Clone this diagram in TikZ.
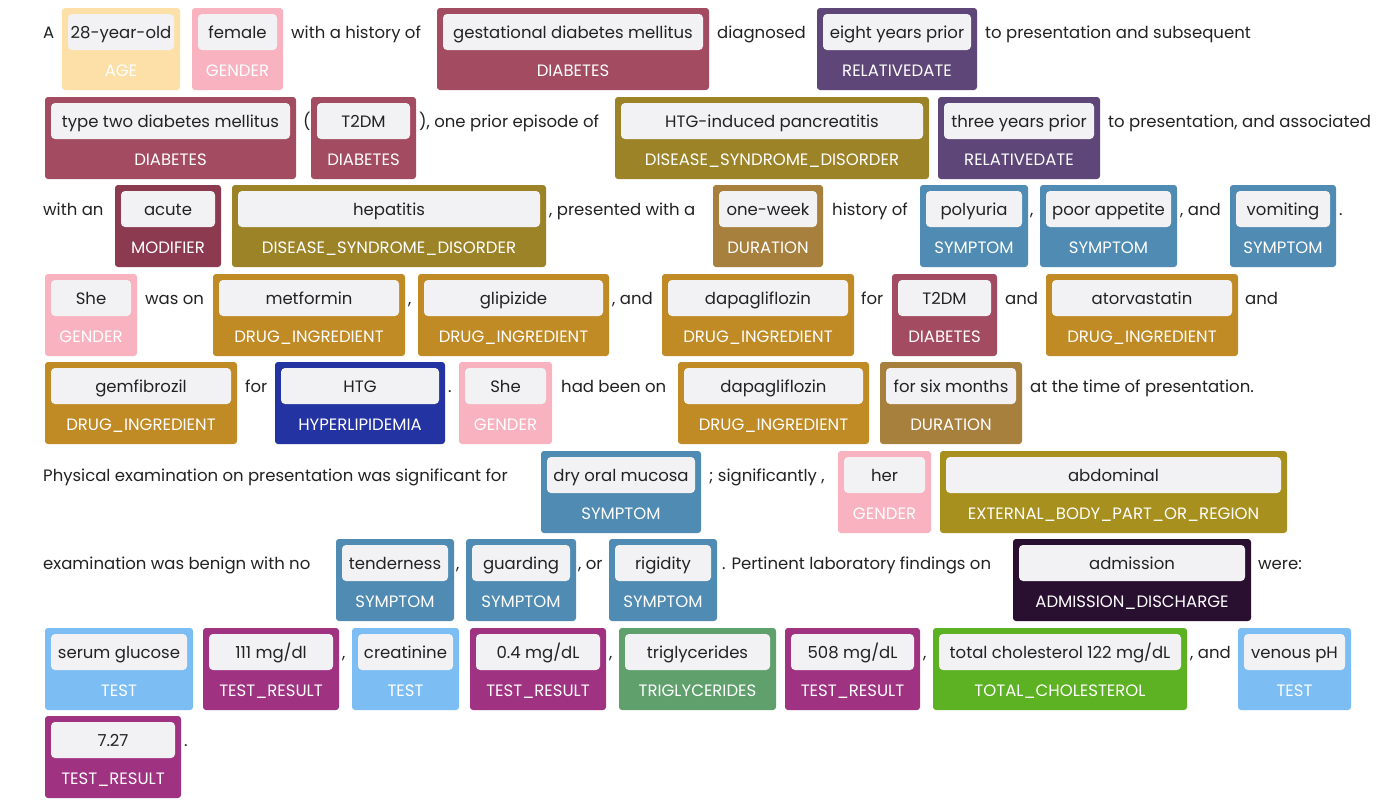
\documentclass[tikz,border=0pt]{standalone}
\usepackage{fontspec}
\setmainfont{Poppins}
\definecolor{cAge}{HTML}{FCE0A8}
\definecolor{cGen}{HTML}{F9B2C0}
\definecolor{cDia}{HTML}{A34B60}
\definecolor{cRel}{HTML}{5E4678}
\definecolor{cDis}{HTML}{9C8328}
\definecolor{cMod}{HTML}{8C3A50}
\definecolor{cDur}{HTML}{A8803E}
\definecolor{cSym}{HTML}{4F8BB2}
\definecolor{cDrug}{HTML}{C08A25}
\definecolor{cHyp}{HTML}{2433A2}
\definecolor{cExt}{HTML}{A8901E}
\definecolor{cAdm}{HTML}{2A1030}
\definecolor{cTest}{HTML}{7CBDF3}
\definecolor{cRes}{HTML}{A03282}
\definecolor{cTri}{HTML}{5FA06C}
\definecolor{cTot}{HTML}{5CB222}
\definecolor{cIn}{HTML}{F2F2F4}
\definecolor{cTx}{HTML}{222222}
\tikzset{
 outer/.style={rounded corners=3pt, inner sep=0pt},
 inner/.style={fill=cIn, rounded corners=4pt},
 word/.style={font=\fontsize{16.5}{20}\selectfont, text=cTx, anchor=base, inner sep=0pt},
 lab/.style={font=\fontsize{16.5}{20}\selectfont, text=white, anchor=base, inner sep=0pt},
 plain/.style={font=\fontsize{16.5}{20}\selectfont, text=cTx, anchor=base west, inner sep=0pt},
}
% name, x1, x2, top, color, word, label
\newcommand\ann[7]{%
 \fill[outer, fill=#5] (#2,#4) rectangle (#3,#4+82);
 \fill[inner] (#2+6,#4+6) rectangle (#3-6,#4+42);
 \node[word] (#1w) at ({(#2+#3)/2},#4+30) {#6};
 \node[lab] (#1l) at ({(#2+#3)/2},#4+68) {#7};
}
\newcommand\ptx[4]{\node[plain] (#1) at (#2,#3+30) {#4};}
\begin{document}
\begin{tikzpicture}[x=1pt,y=-1pt]
\useasboundingbox[fill=white] (0,0) rectangle (1400,804);
% row 1
\ptx{t1a}{43}{8}{A}
\ann{a1}{62}{180}{8}{cAge}{28-year-old}{AGE}
\ann{a2}{192}{283}{8}{cGen}{female}{GENDER}
\ptx{t1b}{291}{8}{with a history of}
\ann{a3}{437}{709}{8}{cDia}{gestational diabetes mellitus}{DIABETES}
\ptx{t1c}{717}{8}{diagnosed}
\ann{a4}{817}{977}{8}{cRel}{eight years prior}{RELATIVEDATE}
\ptx{t1d}{985}{8}{to presentation and subsequent}
% row 2
\ann{b1}{45}{296}{97}{cDia}{type two diabetes mellitus}{DIABETES}
\ptx{t2a}{303}{97}{(}
\ann{b2}{311}{416}{97}{cDia}{T2DM}{DIABETES}
\ptx{t2b}{419}{97}{), one prior episode of}
\ann{b3}{615}{929}{97}{cDis}{HTG-induced pancreatitis}{DISEASE\_SYNDROME\_DISORDER}
\ann{b4}{938}{1100}{97}{cRel}{three years prior}{RELATIVEDATE}
\ptx{t2c}{1108}{97}{to presentation, and associated}
% row 3
\ptx{t3a}{43}{185}{with an}
\ann{c1}{115}{221}{185}{cMod}{acute}{MODIFIER}
\ann{c2}{232}{546}{185}{cDis}{hepatitis}{DISEASE\_SYNDROME\_DISORDER}
\ptx{t3b}{549}{185}{, presented with a}
\ann{c3}{713}{823}{185}{cDur}{one-week}{DURATION}
\ptx{t3c}{832}{185}{history of}
\ann{c4}{920}{1028}{185}{cSym}{polyuria}{SYMPTOM}
\ptx{t3d}{1030}{185}{,}
\ann{c5}{1040}{1177}{185}{cSym}{poor appetite}{SYMPTOM}
\ptx{t3e}{1180}{185}{, and}
\ann{c6}{1230}{1336}{185}{cSym}{vomiting}{SYMPTOM}
\ptx{t3f}{1339}{185}{.}
% row 4
\ann{d1}{45}{137}{274}{cGen}{She}{GENDER}
\ptx{t4a}{145}{274}{was on}
\ann{d2}{213}{405}{274}{cDrug}{metformin}{DRUG\_INGREDIENT}
\ptx{t4b}{408}{274}{,}
\ann{d3}{418}{609}{274}{cDrug}{glipizide}{DRUG\_INGREDIENT}
\ptx{t4c}{612}{274}{, and}
\ann{d4}{662}{854}{274}{cDrug}{dapagliflozin}{DRUG\_INGREDIENT}
\ptx{t4d}{861}{274}{for}
\ann{d5}{892}{997}{274}{cDia}{T2DM}{DIABETES}
\ptx{t4e}{1005}{274}{and}
\ann{d6}{1046}{1238}{274}{cDrug}{atorvastatin}{DRUG\_INGREDIENT}
\ptx{t4f}{1245}{274}{and}
% row 5
\ann{e1}{45}{237}{362}{cDrug}{gemfibrozil}{DRUG\_INGREDIENT}
\ptx{t5a}{245}{362}{for}
\ann{e2}{275}{445}{362}{cHyp}{HTG}{HYPERLIPIDEMIA}
\ptx{t5b}{448}{362}{.}
\ann{e3}{459}{552}{362}{cGen}{She}{GENDER}
\ptx{t5c}{561}{362}{had been on}
\ann{e4}{678}{869}{362}{cDrug}{dapagliflozin}{DRUG\_INGREDIENT}
\ann{e5}{880}{1022}{362}{cDur}{for six months}{DURATION}
\ptx{t5d}{1030}{362}{at the time of presentation.}
% row 6
\ptx{t6a}{43}{451}{Physical examination on presentation was significant for}
\ann{f1}{541}{701}{451}{cSym}{dry oral mucosa}{SYMPTOM}
\ptx{t6b}{709}{451}{; significantly ,}
\ann{f2}{838}{931}{451}{cGen}{her}{GENDER}
\ann{f3}{940}{1287}{451}{cExt}{abdominal}{EXTERNAL\_BODY\_PART\_OR\_REGION}
% row 7
\ptx{t7a}{43}{539}{examination was benign with no}
\ann{g1}{336}{454}{539}{cSym}{tenderness}{SYMPTOM}
\ptx{t7b}{456}{539}{,}
\ann{g2}{466}{576}{539}{cSym}{guarding}{SYMPTOM}
\ptx{t7c}{578}{539}{, or}
\ann{g3}{609}{717}{539}{cSym}{rigidity}{SYMPTOM}
\ptx{t7d}{722}{539}{. Pertinent laboratory findings on}
\ann{g4}{1013}{1251}{539}{cAdm}{admission}{ADMISSION\_DISCHARGE}
\ptx{t7e}{1258}{539}{were:}
% row 8
\ann{h1}{45}{193}{628}{cTest}{serum glucose}{TEST}
\ann{h2}{203}{339}{628}{cRes}{111 mg/dl}{TEST\_RESULT}
\ptx{t8a}{342}{628}{,}
\ann{h3}{352}{459}{628}{cTest}{creatinine}{TEST}
\ann{h4}{470}{606}{628}{cRes}{0.4 mg/dL}{TEST\_RESULT}
\ptx{t8b}{609}{628}{,}
\ann{h5}{619}{776}{628}{cTri}{triglycerides}{TRIGLYCERIDES}
\ann{h6}{785}{920}{628}{cRes}{508 mg/dL}{TEST\_RESULT}
\ptx{t8c}{923}{628}{,}
\ann{h7}{933}{1187}{628}{cTot}{total cholesterol 122 mg/dL}{TOTAL\_CHOLESTEROL}
\ptx{t8d}{1190}{628}{, and}
\ann{h8}{1238}{1351}{628}{cTest}{venous pH}{TEST}
% row 9
\ann{i1}{45}{181}{716}{cRes}{7.27}{TEST\_RESULT}
\ptx{t9a}{184}{716}{.}
\end{tikzpicture}
\end{document}
